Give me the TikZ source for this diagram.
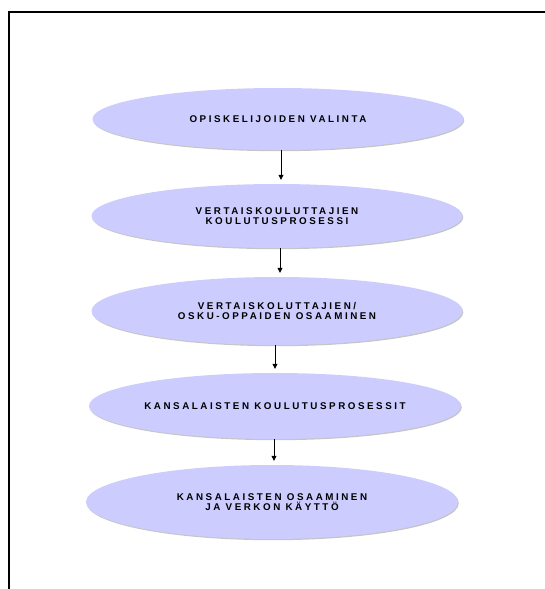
\documentclass[tikz,border=0pt]{standalone}
\usepackage{fontspec}
\usepackage{tikz}
\usetikzlibrary{shapes.geometric}
\usetikzlibrary{shadows}
\usetikzlibrary{arrows.meta}
\newfontfamily\vaihefont[LetterSpace=26]{Liberation Sans}
\definecolor{vaiheväri}{RGB}{204,204,255}

\begin{document}
\begin{tikzpicture}[x=1pt,y=-1pt,
	vaihe/.style={ellipse, fill=vaiheväri, draw=none, inner sep=0pt,
		minimum width=371pt, align=center,
		font=\vaihefont\bfseries\fontsize{9.8}{10.4}\selectfont,
		drop shadow={shadow xshift=0.8pt, shadow yshift=-1.2pt, fill=black!45}},
	nuoli/.style={line width=0.8pt, -{Triangle[length=5pt,width=5pt]}}]
			
			\useasboundingbox (0,0) rectangle (545,589);
			% kehys
			\draw[line width=1.7pt] (9,595) -- (9,12) -- (550,12);
			
			\node[vaihe, minimum height=62pt] (op) at (278,119) {OPISKELIJOIDEN VALINTA};
			\node[vaihe, minimum height=64pt] (vk) at (277,216) {VERTAISKOULUTTAJIEN\\KOULUTUSPROSESSI};
			\node[vaihe, minimum height=68pt] (vo) at (277,311) {VERTAISKOLUTTAJIEN/\\OSKU-OPPAIDEN OSAAMINEN};
			\node[vaihe, minimum height=66pt, minimum width=372pt] (kk) at (275,406) {KANSALAISTEN KOULUTUSPROSESSIT};
			\node[vaihe, minimum height=74pt, minimum width=372pt] (ko) at (272,502) {KANSALAISTEN OSAAMINEN\\JA VERKON KÄYTTÖ};
			
			\draw[nuoli] ([xshift=3pt]op.south) -- ([xshift=4pt,yshift=4pt]vk.north);
			\draw[nuoli] ([xshift=3pt]vk.south) -- ([xshift=3pt,yshift=4pt]vo.north);
			\draw[nuoli] ([xshift=-2pt]vo.south) -- ([yshift=4pt]kk.north);
			\draw[nuoli] ([xshift=-1pt]kk.south) -- ([xshift=2pt,yshift=4pt]ko.north);
			%\draw[dashed] (op.east) -- (ko.east);
			
			\end{tikzpicture}
\end{document}
